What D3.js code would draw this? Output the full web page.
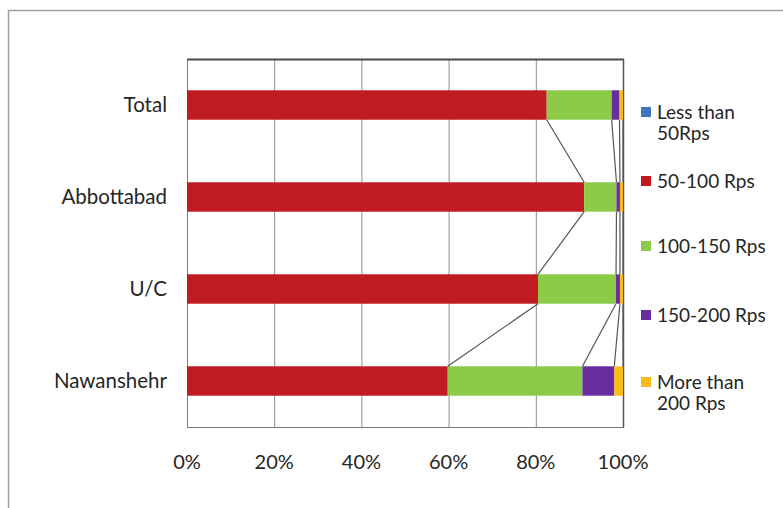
<!DOCTYPE html>
<html>
<head>
<meta charset="utf-8">
<script src="https://cdn.jsdelivr.net/npm/d3@7"></script>
<style>
  html, body { margin: 0; padding: 0; background: #fff; }
  svg { display: block; }
  text { font-family: Lato, "Open Sans", sans-serif; fill: #262626; }
</style>
</head>
<body>
<svg id="chart" width="783" height="508"></svg>
<script>
// Categories (top to bottom) and share of each price band, in percent
const categories = ["Total", "Abbottabad", "U/C", "Nawanshehr"];
const seriesNames = ["Less than 50Rps", "50-100 Rps", "100-150 Rps", "150-200 Rps", "More than 200 Rps"];
const lessThan50 = [0.0, 0.0, 0.0, 0.0];
const rps50to100 = [82.5, 91.1, 80.5, 59.8];
const rps100to150 = [14.9, 7.4, 17.9, 30.9];
const rps150to200 = [1.8, 0.8, 0.9, 7.3];
const moreThan200 = [0.8, 0.7, 0.7, 2.0];
const tickLabels = ["0%", "20%", "40%", "60%", "80%", "100%"];
const colors = ["#3d77c0", "#c01b22", "#8ccb48", "#6a2da0", "#f8bb17"];
const legendLines = [["Less than", "50Rps"], ["50-100 Rps"], ["100-150 Rps"], ["150-200 Rps"], ["More than", "200 Rps"]];

const seriesValues = [lessThan50, rps50to100, rps100to150, rps150to200, moreThan200];
const rows = categories.map((c, i) => {
  const r = { category: c };
  seriesNames.forEach((s, j) => { r[s] = seriesValues[j][i]; });
  return r;
});

const svg = d3.select("#chart");

// Outer chart frame
svg.append("path")
  .attr("d", "M8.5,508 V10.5 H783")
  .attr("fill", "none")
  .attr("stroke", "#a89c9a")
  .attr("stroke-width", 1.5);

const plot = { left: 187, right: 623, top: 59, bottom: 427 };

const x = d3.scaleLinear().domain([0, 100]).range([plot.left, plot.right]);
const y = d3.scaleBand().domain(categories).range([plot.top, plot.bottom]).paddingInner(0.68).paddingOuter(0.34);

// Vertical gridlines
svg.append("g")
  .selectAll("line")
  .data(d3.range(0, 101, 20))
  .join("line")
  .attr("x1", d => x(d) + 0.5).attr("x2", d => x(d) + 0.5)
  .attr("y1", plot.top).attr("y2", plot.bottom)
  .attr("stroke", "#8e8e8e")
  .attr("stroke-width", 1);

// Plot-area border
svg.append("rect")
  .attr("x", plot.left + 0.5).attr("y", plot.top + 0.5)
  .attr("width", plot.right - plot.left).attr("height", plot.bottom - plot.top)
  .attr("fill", "none").attr("stroke", "#7a7a7a").attr("stroke-width", 1);
svg.append("line")
  .attr("x1", plot.left).attr("x2", plot.right + 1)
  .attr("y1", plot.top + 0.5).attr("y2", plot.top + 0.5)
  .attr("stroke", "#4a4a4a").attr("stroke-width", 2);
svg.append("line")
  .attr("x1", plot.right + 0.5).attr("x2", plot.right + 0.5)
  .attr("y1", plot.top).attr("y2", plot.bottom)
  .attr("stroke", "#555").attr("stroke-width", 1.5);

// Stacked bars
const stack = d3.stack().keys(seriesNames);
const layers = stack(rows);

svg.append("g")
  .selectAll("g")
  .data(layers)
  .join("g")
  .attr("fill", (d, i) => colors[i])
  .selectAll("rect")
  .data(d => d)
  .join("rect")
  .attr("x", d => x(d[0]))
  .attr("y", d => y(d.data.category))
  .attr("width", d => Math.max(0, x(d[1]) - x(d[0])))
  .attr("height", y.bandwidth());

// Series lines joining segment boundaries of neighbouring bars
const seriesLines = [];
layers.forEach(layer => {
  if (d3.max(layer, d => d[1] - d[0]) === 0) return;
  for (let i = 0; i < layer.length - 1; i++) {
    seriesLines.push({ a: layer[i], b: layer[i + 1] });
  }
});
svg.append("g")
  .selectAll("line")
  .data(seriesLines)
  .join("line")
  .attr("x1", d => x(d.a[1]))
  .attr("y1", d => y(d.a.data.category) + y.bandwidth())
  .attr("x2", d => x(d.b[1]))
  .attr("y2", d => y(d.b.data.category))
  .attr("stroke", "#555")
  .attr("stroke-width", 1.2);

// Category axis labels
svg.append("g")
  .selectAll("text")
  .data(categories)
  .join("text")
  .attr("x", 167)
  .attr("y", d => y(d) + y.bandwidth() / 2)
  .attr("dy", "0.35em")
  .attr("text-anchor", "end")
  .attr("font-size", 20.5)
  .text(d => d);

// Percentage axis labels
svg.append("g")
  .selectAll("text")
  .data(tickLabels)
  .join("text")
  .attr("x", (d, i) => x(i * 20))
  .attr("y", 469)
  .attr("text-anchor", "middle")
  .attr("font-size", 20)
  .text(d => d);

// Legend
const legendY = [112, 181, 246, 315, 382];
const legend = svg.append("g")
  .selectAll("g")
  .data(legendLines)
  .join("g")
  .attr("transform", (d, i) => `translate(641,${legendY[i]})`);
legend.append("rect")
  .attr("x", 0).attr("y", -5)
  .attr("width", 10).attr("height", 10)
  .attr("fill", (d, i) => colors[i]);
legend.append("text")
  .attr("font-size", 19)
  .selectAll("tspan")
  .data(d => d)
  .join("tspan")
  .attr("x", 16)
  .attr("y", (d, i) => i * 21)
  .attr("dy", "0.35em")
  .text(d => d);
</script>
</body>
</html>
